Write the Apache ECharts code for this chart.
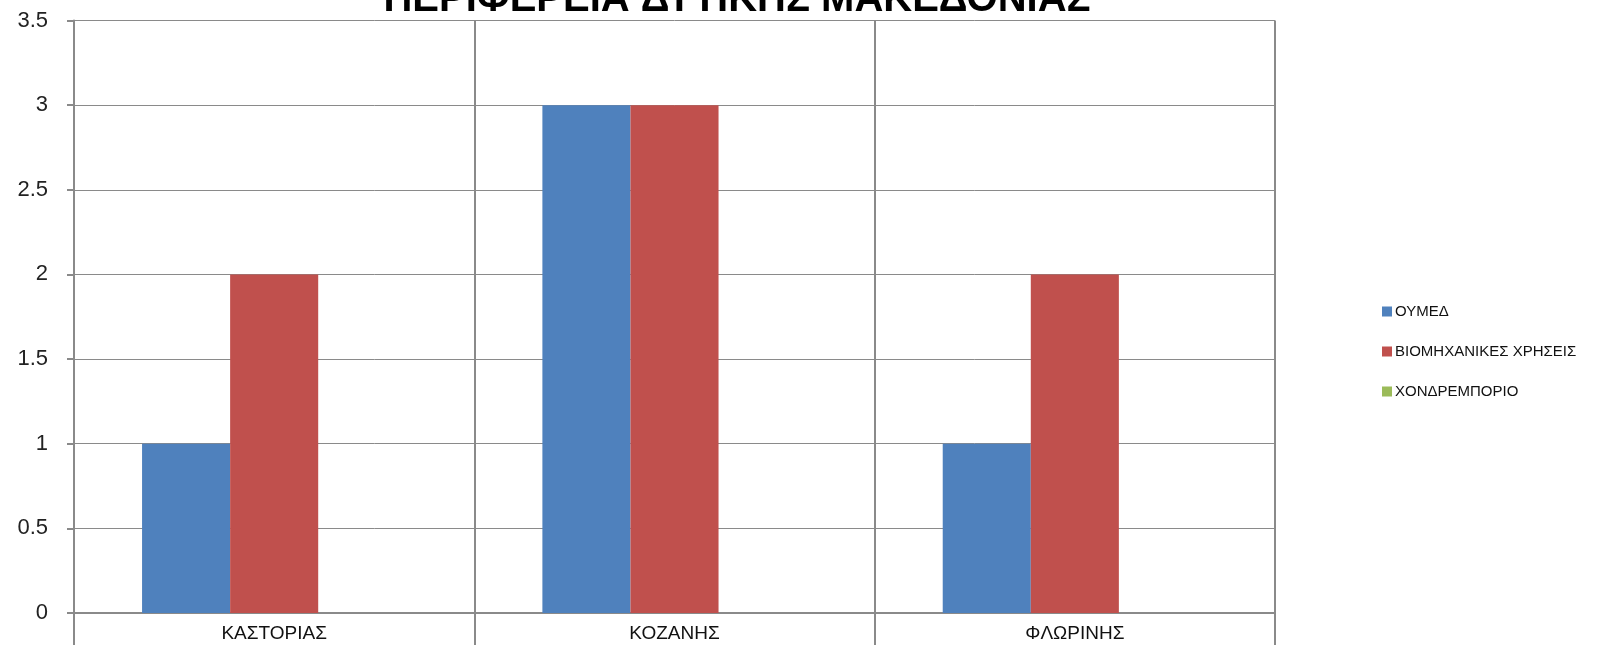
<!DOCTYPE html>
<html><head><meta charset="utf-8">
<script src="https://cdn.jsdelivr.net/npm/echarts@6/dist/echarts.min.js"></script>
<style>html,body{margin:0;padding:0;background:#fff}#c{width:1616px;height:645px}</style>
</head><body><div id="c"></div>
<script>
const categories = ['ΚΑΣΤΟΡΙΑΣ', 'ΚΟΖΑΝΗΣ', 'ΦΛΩΡΙΝΗΣ'];
const seriesNames = ['ΟΥΜΕΔ', 'ΒΙΟΜΗΧΑΝΙΚΕΣ ΧΡΗΣΕΙΣ', 'ΧΟΝΔΡΕΜΠΟΡΙΟ'];
const oumed = [1, 3, 1];
const viomixanikes = [2, 3, 2];
const xondremporio = [0, 0, 0];
const titleText = 'ΠΕΡΙΦΕΡΕΙΑ ΔΥΤΙΚΗΣ ΜΑΚΕΔΟΝΙΑΣ';
const colors = ['#4F81BD', '#C0504D', '#9BBB59'];
const values = [oumed, viomixanikes, xondremporio];

const chart = echarts.init(document.getElementById('c'));
chart.setOption({
  animation: false,
  color: colors,
  title: {
    text: titleText, left: 732, top: -25, textAlign: 'center',
    textStyle: {fontFamily: 'Liberation Sans', fontWeight: 'bold', fontSize: 40, color: '#000'}
  },
  legend: {
    orient: 'vertical', left: 1377, top: 299, itemWidth: 10, itemHeight: 10, itemGap: 25,
    icon: 'rect',
    textStyle: {fontFamily: 'Liberation Sans', fontSize: 15, color: '#111', padding: [0,0,0,-2]},
    data: seriesNames
  },
  grid: {left: 74, right: 341, top: 20.5, bottom: 32, containLabel: false},
  xAxis: {
    type: 'category', data: categories,
    axisLine: {lineStyle: {color: '#8a8a8a', width: 2}},
    axisTick: {show: true, length: 34, lineStyle: {color: '#8a8a8a', width: 2}},
    splitLine: {show: true, lineStyle: {color: '#8a8a8a', width: 2}},
    axisLabel: {fontFamily: 'Liberation Sans', fontSize: 19, color: '#111', margin: 11}
  },
  yAxis: {
    type: 'value', min: 0, max: 3.5, interval: 0.5,
    axisLine: {show: true, lineStyle: {color: '#8a8a8a', width: 2}},
    axisTick: {show: true, length: 7, lineStyle: {color: '#8a8a8a', width: 2}},
    splitLine: {show: true, lineStyle: {color: '#8a8a8a', width: 1}},
    axisLabel: {fontFamily: 'Liberation Sans', fontSize: 22, color: '#222', margin: 26}
  },
  series: seriesNames.map((n, i) => ({
    name: n, type: 'bar', data: values[i], barGap: '0%', barCategoryGap: '34%'
  }))
});
</script></body></html>
